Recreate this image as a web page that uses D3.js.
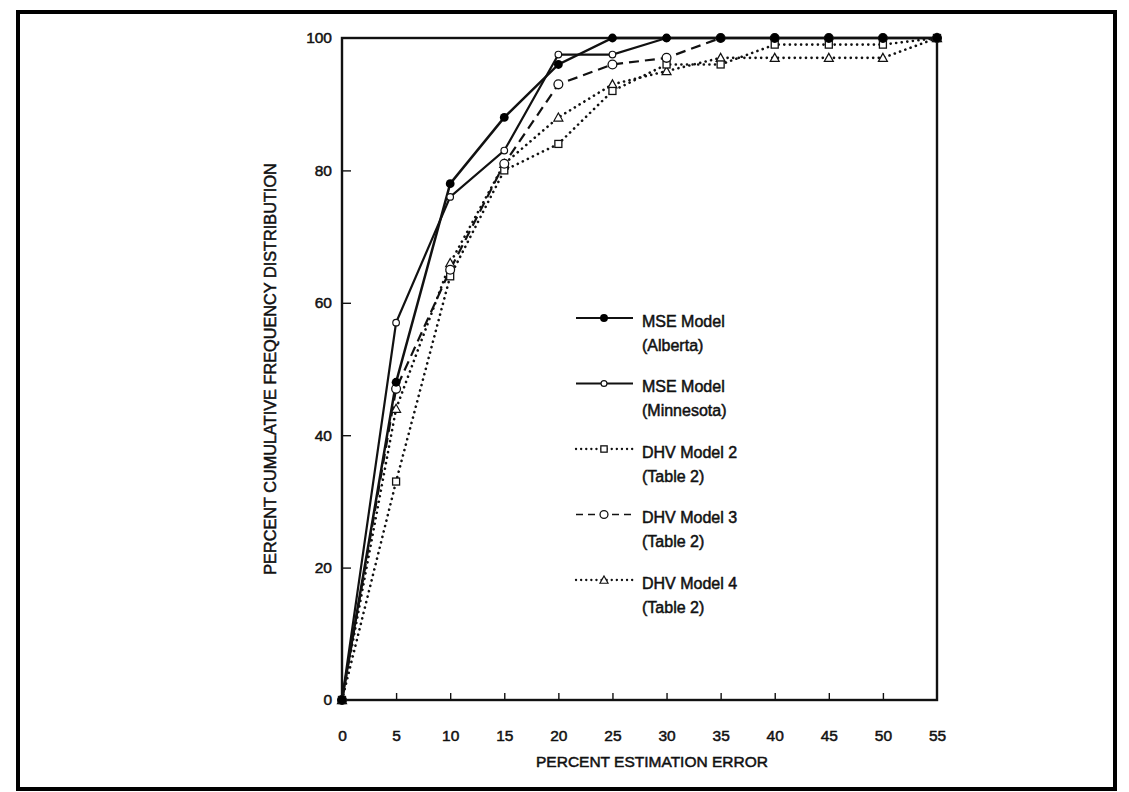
<!DOCTYPE html>
<html><head><meta charset="utf-8">
<script src="https://cdn.jsdelivr.net/npm/d3@7/dist/d3.min.js"></script>
<style>
html,body{margin:0;padding:0;background:#fff;}
svg text{font-family:"Liberation Sans",Arial,sans-serif;fill:#111;}
</style></head>
<body>
<svg id="c" width="1129" height="792"></svg>
<script>
const xValues = [0,5,10,15,20,25,30,35,40,45,50,55];
const albertaValues   = [0,48,78,88,96,100,100,100,100,100,100,100];
const minnesotaValues = [0,57,76,83,97.5,97.5,100,100,100,100,100,100];
const dhv2Values      = [0,33,64,80,84,92,96,96,99,99,99,100];
const dhv3Values      = [0,47,65,81,93,96,97,100,100,100,100,100];
const dhv4Values      = [0,44,66,81,88,93,95,97,97,97,97,100];
const xTicks = [0,5,10,15,20,25,30,35,40,45,50,55];
const yTicks = [0,20,40,60,80,100];
const seriesNames = [["MSE Model","(Alberta)"],["MSE Model","(Minnesota)"],["DHV Model 2","(Table 2)"],["DHV Model 3","(Table 2)"],["DHV Model 4","(Table 2)"]];

const svg = d3.select("#c");
svg.append("rect").attr("x",18).attr("y",12).attr("width",1097).attr("height",777)
  .attr("fill","none").attr("stroke","#000").attr("stroke-width",4);

const x = d3.scaleLinear().domain([0,55]).range([342,937]);
const y = d3.scaleLinear().domain([0,100]).range([700,38]);

// plot frame
svg.append("rect").attr("x",x(0)).attr("y",y(100)).attr("width",x(55)-x(0)).attr("height",y(0)-y(100))
  .attr("fill","none").attr("stroke","#111").attr("stroke-width",2.4);

const txtStroke = 0.5;
// axes
const yAxis = d3.axisLeft(y).tickValues(yTicks).tickSize(-9).tickPadding(10).tickFormat(d3.format("d"));
const gy = svg.append("g").attr("transform",`translate(${x(0)},0)`).call(yAxis);
const xAxis = d3.axisBottom(x).tickValues(xTicks).tickSize(-7).tickPadding(30).tickFormat(d3.format("d"));
const gx = svg.append("g").attr("transform",`translate(0,${y(0)})`).call(xAxis);
[gy,gx].forEach(g=>{
  g.select(".domain").remove();
  g.selectAll(".tick line").attr("stroke","#111").attr("stroke-width",1.4);
  g.selectAll(".tick text").attr("font-size",15.5).attr("fill","#111").attr("stroke","#111").attr("stroke-width",txtStroke);
});
gy.selectAll(".tick").filter(d=>d===100||d===0).select("line").remove();
gx.selectAll(".tick").filter(d=>d===0||d===55).select("line").remove();

svg.append("text").attr("x",652).attr("y",767).attr("text-anchor","middle")
  .attr("font-size",15.5).attr("stroke","#111").attr("stroke-width",txtStroke).text("PERCENT ESTIMATION ERROR");
svg.append("text").attr("transform",`translate(276,${y(50)}) rotate(-90)`).attr("text-anchor","middle")
  .attr("font-size",16.3).attr("stroke","#111").attr("stroke-width",txtStroke).text("PERCENT CUMULATIVE FREQUENCY DISTRIBUTION");

const styles = [
  {vals:albertaValues, dash:null, w:2.5, marker:"fill", dot:false},
  {vals:minnesotaValues, dash:null, w:2.2, marker:"smallcircle", dot:false},
  {vals:dhv2Values, dash:"0.1,5.5", w:2.6, marker:"square", dot:true},
  {vals:dhv3Values, dash:"10,6", w:2.2, marker:"circle", dot:false},
  {vals:dhv4Values, dash:"0.1,5.5", w:2.6, marker:"triangle", dot:true}
];
const line = d3.line().x(d=>x(d[0])).y(d=>y(d[1]));

function drawMarker(g, type, cx, cy, scale){
  scale = scale||1;
  if(type==="fill"){
    g.append("circle").attr("cx",cx).attr("cy",cy).attr("r",4.4*scale).attr("fill","#000");
  } else if(type==="smallcircle"){
    g.append("circle").attr("cx",cx).attr("cy",cy).attr("r",3.3*scale).attr("fill","#fff").attr("stroke","#111").attr("stroke-width",1.2);
  } else if(type==="circle"){
    g.append("circle").attr("cx",cx).attr("cy",cy).attr("r",4.4*scale).attr("fill","#fff").attr("stroke","#111").attr("stroke-width",1.3);
  } else if(type==="square"){
    const s=7*scale;
    g.append("rect").attr("x",cx-s/2).attr("y",cy-s/2).attr("width",s).attr("height",s).attr("fill","#fff").attr("stroke","#111").attr("stroke-width",1.3);
  } else if(type==="triangle"){
    const s=4.5*scale;
    g.append("path").attr("d",`M${cx},${cy-s}L${cx+s},${cy+s*0.8}L${cx-s},${cy+s*0.8}Z`).attr("fill","#fff").attr("stroke","#111").attr("stroke-width",1.2);
  }
}

// draw lines (dotted ones first)
const order=[4,2,3,1,0];
order.forEach(i=>{
  const st=styles[i];
  const pts = xValues.map((xv,j)=>[xv,st.vals[j]]);
  svg.append("path").attr("d",line(pts)).attr("fill","none").attr("stroke","#111")
    .attr("stroke-width",st.w).attr("stroke-dasharray",st.dash).attr("stroke-linecap",st.dot?"round":"butt");
});
order.forEach(i=>{
  const st=styles[i];
  const g=svg.append("g");
  xValues.forEach((xv,j)=>drawMarker(g,st.marker,x(xv),y(st.vals[j])));
});

// legend
const legY=[321,386.5,452,517.5,583];
styles.forEach((st,i)=>{
  const ly=legY[i]-3;
  svg.append("line").attr("x1",576).attr("x2",633).attr("y1",ly).attr("y2",ly)
    .attr("stroke","#111").attr("stroke-width",st.dot?2.3:(st.dash?1.7:2))
    .attr("stroke-dasharray",st.dot?"0.1,5":(st.dash?"7,5":null))
    .attr("stroke-linecap",st.dot?"round":"butt");
  drawMarker(svg,st.marker,604,ly,0.9);
  svg.append("text").attr("x",642).attr("y",legY[i]+5.5).attr("font-size",16).attr("stroke","#111").attr("stroke-width",txtStroke).text(seriesNames[i][0]);
  svg.append("text").attr("x",642).attr("y",legY[i]+29.5).attr("font-size",16).attr("stroke","#111").attr("stroke-width",txtStroke).text(seriesNames[i][1]);
});
</script>
</body></html>
